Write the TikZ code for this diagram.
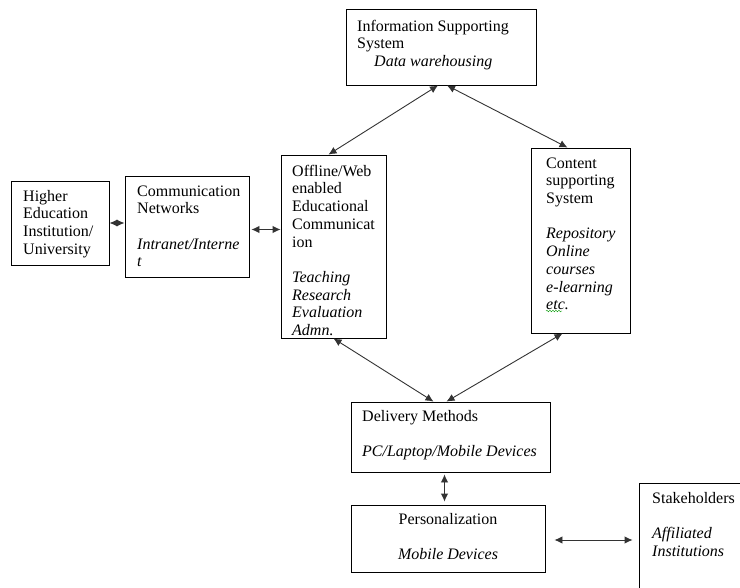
\documentclass[tikz,border=0pt]{standalone}
\usepackage{fontspec}
\setmainfont{Liberation Serif}
\usetikzlibrary{arrows.meta,decorations.pathmorphing}
\newcommand{\firstline}{\rule{0pt}{12pt}}
\tikzset{
  box/.style={draw=black, line width=0.9pt, rectangle, inner sep=0pt},
  boxtext/.style={anchor=north west, align=left, inner sep=0pt, yshift=12pt, font=\fontsize{16}{17.7}\selectfont},
  link/.style={draw=black!80, line width=0.9pt, {Latex[length=8pt,width=7.5pt]}-{Latex[length=8pt,width=7.5pt]}},
}
\begin{document}
\begin{tikzpicture}[x=1pt,y=-1pt]
        \useasboundingbox (0,0) rectangle (740,588);
        % boxes
        \node[box, minimum width=190pt, minimum height=76pt]  (info)  at (441,47)    {};
        \node[box, minimum width=98pt,  minimum height=84pt]  (hei)   at (60,223)    {};
        \node[box, minimum width=124pt, minimum height=101pt] (comm)  at (187,226.5) {};
        \node[box, minimum width=105pt, minimum height=183pt] (off)   at (333.5,246.5) {};
        \node[box, minimum width=99pt,  minimum height=185pt] (cont)  at (580.5,240.5) {};
        \node[box, minimum width=199pt, minimum height=70pt]  (del)   at (450.5,437) {};
        \node[box, minimum width=194pt, minimum height=67pt]  (pers)  at (448,538.5) {};
        \node[box, minimum width=111pt, minimum height=117pt] (stake) at (694.5,541.5) {};
        % texts (placed at the baseline of their first line)
        \node[boxtext] (infotext) at (357,31) {\firstline Information Supporting\\System\\\hspace*{17pt}\textit{Data warehousing}};
        \node[boxtext] (heitext) at (23,201) {\firstline Higher\\Education\\Institution/\\University};
        \node[boxtext] (commtext) at (137,196) {\firstline Communication\\Networks\\[17.7pt]\textit{Intranet/Interne}\\\textit{t}};
        \node[boxtext] (offtext) at (292,176) {\firstline Offline/Web\\enabled\\Educational\\Communicat\\ion\\[17.7pt]\textit{Teaching}\\\textit{Research}\\\textit{Evaluation}\\\textit{Admn.}};
        \node[boxtext] (conttext) at (546,168) {\firstline Content\\supporting\\System\\[17.7pt]\textit{Repository}\\\textit{Online}\\\textit{courses}\\\textit{e-learning}\\\textit{etc.}};
        \node[boxtext] (deltext) at (362,421) {\firstline Delivery Methods\\[17.7pt]\textit{PC/Laptop/Mobile Devices}};
        \node[boxtext, anchor=north, align=center] (perstext) at (448,524) {\firstline Personalization\\[17.7pt]\textit{Mobile Devices}};
        \node[boxtext] (staketext) at (652,503) {\firstline Stakeholders\\[17.7pt]\textit{Affiliated}\\\textit{Institutions}};
        % spelling mark under etc.
        \draw[green!60!black, decorate, decoration={snake, amplitude=0.8pt, segment length=3pt}] (546,311) -- (562,311);
        % connectors
        \draw[link] ([xshift=-3pt]info.south) -- ([xshift=-5pt]off.north);
        \draw[link] ([xshift=6pt]info.south) -- ([xshift=-13pt]cont.north);
        \draw[link] (off.south) -- ([xshift=-17pt]del.north);
        \draw[link] ([xshift=-18pt]cont.south) -- ([xshift=-4pt]del.north);
        \draw[link, {Latex[length=8pt,width=7pt]}-{Latex[length=8pt,width=7pt]}] (hei.east) -- (hei.east -| comm.west);
        \draw[link, shorten <=2pt] ([yshift=-3pt]comm.east) -- ([yshift=-3pt]comm.east -| off.west);
        \draw[link, shorten <=2pt, shorten >=3pt] ([xshift=-6pt]del.south) -- ([xshift=-6pt]del.south |- pers.north);
        \draw[link, shorten <=9pt, shorten >=6pt] ([yshift=-1.5pt]pers.east) -- ([yshift=-1.5pt]pers.east -| stake.west);
\end{tikzpicture}
\end{document}
